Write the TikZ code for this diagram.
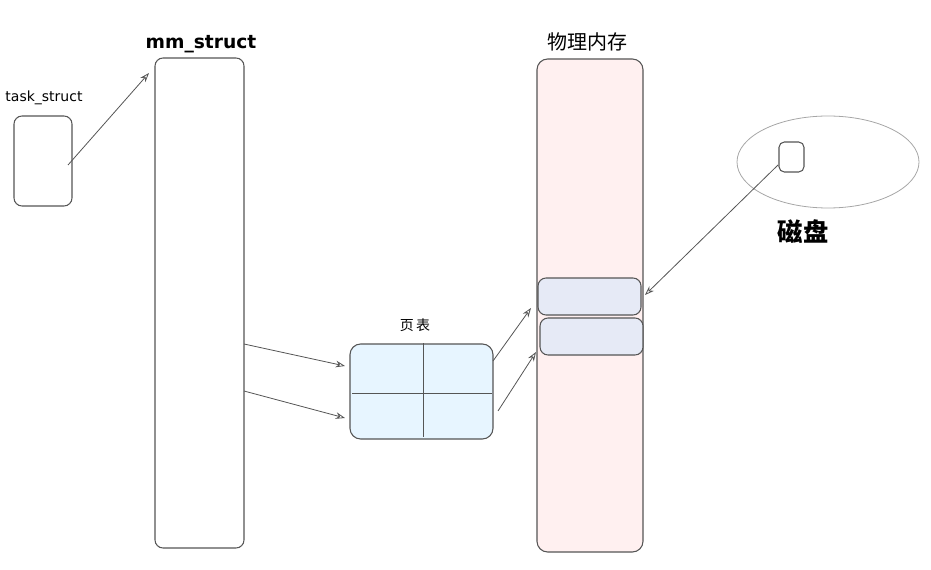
\documentclass[tikz,border=0pt]{standalone}
\usepackage{fontspec}
\setmainfont{DejaVu Sans}
\newfontfamily\cjk{Noto Sans CJK SC}
\usetikzlibrary{arrows.meta,shapes.geometric}
\definecolor{strokec}{HTML}{555555}
\definecolor{ptfill}{HTML}{E7F5FF}
\definecolor{memfill}{HTML}{FFF0F0}
\definecolor{blkfill}{HTML}{E6EAF6}
\tikzset{
  box/.style={draw=strokec, line width=0.8pt, rounded corners=6pt},
  conn/.style={draw=strokec, line width=0.6pt, -{Stealth[open,length=7pt,width=5pt]}},
  lbl/.style={inner sep=0pt, text=black}
}
\begin{document}
\begin{tikzpicture}[x=0.75pt,y=-0.75pt]
\useasboundingbox (0,0) rectangle (931,570);
% task_struct
\node[lbl, font=\fontsize{10.5}{12}\selectfont] (tl) at (44,98) {task\_struct};
\draw[box] (14,116) rectangle (72,206);
\coordinate (ts) at (68,165);
% mm_struct
\node[lbl, font=\fontsize{14}{16}\selectfont\bfseries] (ml) at (201,44) {mm\_struct};
\draw[box] (155,58) rectangle (244,548);
\coordinate (mmtop) at (149,73);
\coordinate (mm1) at (244,344);
\coordinate (mm2) at (244,391);
\draw[conn] (ts) -- (mmtop);
% page table
\node[lbl, font=\cjk\fontsize{10.5}{12}\selectfont] (pl) at (415,325) {页\,表};
\draw[box, fill=ptfill, rounded corners=8pt] (350,344) rectangle (493,439);
\draw[strokec, line width=0.6pt] (423,343) -- (423,437);
\draw[strokec, line width=0.6pt] (352,393) -- (492,393);
\coordinate (pt1in) at (345,366);
\coordinate (pt2in) at (345,418);
\coordinate (pt1out) at (493,361);
\coordinate (pt2out) at (498,411);
\draw[conn] (mm1) -- (pt1in);
\draw[conn] (mm2) -- (pt2in);
% physical memory
\node[lbl, font=\cjk\fontsize{15}{17}\selectfont] (pml) at (587,42) {物理内存};
\draw[box, fill=memfill, rounded corners=8pt] (537,59) rectangle (643,552);
\node[box, fill=blkfill, minimum width=77.25pt, minimum height=27.75pt, inner sep=0pt] (b1) at (589.5,296.5) {};
\node[box, fill=blkfill, minimum width=77.25pt, minimum height=27.75pt, inner sep=0pt] (b2) at (591.5,336.5) {};
\coordinate (b1in) at (531,308);
\coordinate (b2in) at (536,352);
\coordinate (b1r) at (645,295);
\draw[conn] (pt1out) -- (b1in);
\draw[conn] (pt2out) -- (b2in);
% disk
\node[draw=gray!70, line width=0.6pt, ellipse, minimum width=136.5pt, minimum height=69pt, inner sep=0pt] (disk) at (828,162) {};
\draw[box, rounded corners=4pt] (779,142) rectangle (804,172);
\coordinate (dsk) at (778,165);
\draw[conn] (dsk) -- (b1r);
\node[lbl, font=\cjk\fontsize{19}{21}\selectfont\bfseries] (dl) at (803,232) {磁盘};
\end{tikzpicture}
\end{document}
